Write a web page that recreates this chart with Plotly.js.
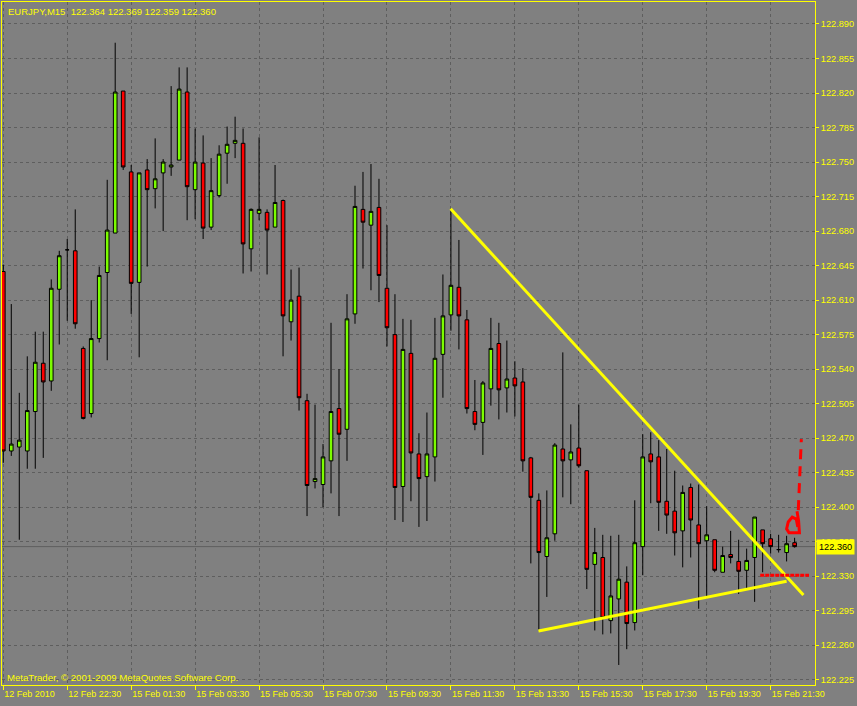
<!DOCTYPE html>
<html>
<head>
<meta charset="utf-8">
<script src="https://cdn.plot.ly/plotly-3.0.1.min.js"></script>
<style>
html,body{margin:0;padding:0;background:#808080;}
#chart{width:857px;height:706px;}
</style>
</head>
<body>
<div id="chart"></div>
<script>
// ---- data (EURJPY, M15) ----
const barIndex = Array.from({length: 100}, (_, i) => i);
const openPrices = [
 122.639,122.457,122.461,122.457,122.497,122.546,122.528,122.621,122.661,122.660,
 122.561,122.495,122.571,122.638,122.678,122.822,122.740,122.628,122.742,122.723,
 122.739,122.745,122.752,122.821,122.722,122.749,122.684,122.716,122.759,122.769,
 122.769,122.662,122.698,122.699,122.684,122.711,122.588,122.614,122.508,122.426,
 122.423,122.447,122.500,122.479,122.596,122.702,122.686,122.704,122.622,122.575,
 122.421,122.556,122.454,122.431,122.451,122.555,122.595,122.623,122.590,122.497,
 122.486,122.520,122.566,122.521,122.531,122.527,122.450,122.407,122.350,122.373,
 122.459,122.448,122.460,122.437,122.342,122.349,122.285,122.307,122.324,122.283,
 122.360,122.454,122.451,122.406,122.396,122.376,122.420,122.382,122.366,122.367,
 122.334,122.352,122.345,122.336,122.349,122.377,122.368,122.357,122.354,122.364];
const highPrices = [
 122.646,122.606,122.516,122.553,122.578,122.578,122.631,122.660,122.672,122.702,
 122.563,122.610,122.644,122.732,122.871,122.822,122.747,122.739,122.753,122.774,
 122.753,122.827,122.846,122.846,122.784,122.777,122.754,122.767,122.786,122.796,
 122.784,122.703,122.775,122.702,122.747,122.712,122.641,122.643,122.515,122.504,
 122.464,122.587,122.540,122.616,122.726,122.740,122.748,122.733,122.686,122.616,
 122.591,122.590,122.475,122.496,122.592,122.636,122.702,122.671,122.600,122.529,
 122.528,122.592,122.587,122.569,122.548,122.541,122.451,122.414,122.417,122.465,
 122.557,122.484,122.504,122.437,122.379,122.372,122.371,122.372,122.340,122.407,
 122.474,122.476,122.468,122.459,122.437,122.422,122.424,122.423,122.401,122.367,
 122.360,122.376,122.367,122.358,122.390,122.377,122.373,122.372,122.371,122.369];
const lowPrices = [
 122.445,122.452,122.367,122.439,122.439,122.450,122.518,122.565,122.589,122.581,
 122.489,122.491,122.567,122.549,122.678,122.742,122.596,122.552,122.644,122.703,
 122.680,122.736,122.752,122.691,122.692,122.672,122.681,122.714,122.728,122.754,
 122.637,122.639,122.691,122.636,122.684,122.553,122.569,122.498,122.391,122.419,
 122.400,122.414,122.391,122.447,122.586,122.642,122.620,122.608,122.563,122.387,
 122.385,122.406,122.380,122.386,122.426,122.511,122.579,122.560,122.495,122.478,
 122.453,122.503,122.489,122.496,122.492,122.436,122.343,122.276,122.309,122.366,
 122.410,122.403,122.440,122.317,122.275,122.271,122.272,122.240,122.256,122.275,
 122.331,122.404,122.376,122.373,122.351,122.339,122.349,122.297,122.309,122.334,
 122.334,122.343,122.312,122.316,122.304,122.334,122.353,122.354,122.345,122.359];
const closePrices = [
 122.457,122.464,122.468,122.498,122.547,122.527,122.622,122.655,122.661,122.586,
 122.490,122.571,122.635,122.681,122.821,122.745,122.627,122.739,122.722,122.733,
 122.750,122.747,122.824,122.725,122.750,122.683,122.721,122.758,122.768,122.772,
 122.667,122.702,122.702,122.681,122.709,122.594,122.610,122.511,122.422,122.429,
 122.451,122.497,122.474,122.591,122.705,122.689,122.700,122.635,122.582,122.420,
 122.560,122.455,122.429,122.454,122.551,122.594,122.625,122.594,122.500,122.484,
 122.526,122.561,122.519,122.530,122.523,122.447,122.410,122.354,122.369,122.463,
 122.447,122.456,122.442,122.337,122.354,122.288,122.310,122.327,122.282,122.364,
 122.451,122.446,122.405,122.392,122.374,122.415,122.387,122.363,122.372,122.336,
 122.351,122.349,122.335,122.346,122.390,122.363,122.360,122.357,122.363,122.360];

const xTickVals = [0, 8, 16, 24, 32, 40, 48, 56, 64, 72, 80, 88, 96];
const xTickLabels = ["12 Feb 2010","12 Feb 22:30","15 Feb 01:30","15 Feb 03:30","15 Feb 05:30",
  "15 Feb 07:30","15 Feb 09:30","15 Feb 11:30","15 Feb 13:30","15 Feb 15:30",
  "15 Feb 17:30","15 Feb 19:30","15 Feb 21:30"];
const yTickVals = [122.890,122.855,122.820,122.785,122.750,122.715,122.680,122.645,122.610,
  122.575,122.540,122.505,122.470,122.435,122.400,122.365,122.330,122.295,122.260,122.225];
const yTickLabels = yTickVals.map(v => v.toFixed(3));

const symbolTitle = "EURJPY,M15  122.364 122.369 122.359 122.360";
const copyrightText = "MetaTrader, © 2001-2009 MetaQuotes Software Corp.";
const lastPrice = 122.360;

// drawn trendlines (bar index, price)
const upperTrendX = [55.96, 100.1];
const upperTrendY = [122.7026, 122.311];
const lowerTrendX = [66.96, 98.0];
const lowerTrendY = [122.2745, 122.325];
// red hand-drawn marks
const redLevelX = [94.7, 100.8];
const redLevelY = [122.331, 122.331];
const redLoopX = [99.3, 99.5, 99.6, 98.3, 98.0, 98.2, 98.7, 99.2, 99.4];
const redLoopY = [122.396, 122.386, 122.374, 122.374, 122.378, 122.385, 122.390, 122.388, 122.380];
const redArrowX = [99.46, 99.84];
const redArrowY = [122.397, 122.469];

const YEL = "#ffff00";
const FONT = "Liberation Sans, Arial, sans-serif";

const traces = [
  {
    type: "candlestick",
    x: barIndex, open: openPrices, high: highPrices, low: lowPrices, close: closePrices,
    increasing: {fillcolor: "#7cfc00", line: {color: "#000000", width: 1}},
    decreasing: {fillcolor: "#ff0000", line: {color: "#000000", width: 1}},
    whiskerwidth: 0,
    hoverinfo: "skip",
    showlegend: false
  },
  {type: "scatter", mode: "lines", x: upperTrendX, y: upperTrendY,
   line: {color: YEL, width: 3}, hoverinfo: "skip", showlegend: false},
  {type: "scatter", mode: "lines", x: lowerTrendX, y: lowerTrendY,
   line: {color: YEL, width: 3}, hoverinfo: "skip", showlegend: false},
  {type: "scatter", mode: "lines", x: redLevelX, y: redLevelY,
   line: {color: "#ff0000", width: 3, dash: "4px,1px"}, hoverinfo: "skip", showlegend: false},
  {type: "scatter", mode: "lines", x: redLoopX, y: redLoopY,
   line: {color: "#ff0000", width: 3}, hoverinfo: "skip", showlegend: false},
  {type: "scatter", mode: "lines", x: redArrowX, y: redArrowY,
   line: {color: "#ff0000", width: 3, dash: "10px,7px"}, hoverinfo: "skip", showlegend: false}
];

const layout = {
  width: 857, height: 706,
  paper_bgcolor: "#808080", plot_bgcolor: "#808080",
  margin: {l: 2, r: 41.7, t: 2.3, b: 21},
  showlegend: false,
  boxgap: 0.35,
  font: {family: FONT, size: 9, color: YEL},
  xaxis: {
    type: "linear",
    range: [-0.1625, 101.55],
    tickvals: xTickVals, ticktext: xTickLabels,
    tickangle: 0,
    ticks: "outside", ticklen: 4, tickcolor: YEL, tickwidth: 1,
    ticklabelposition: "outside right",
    tickfont: {family: FONT, size: 9, color: YEL},
    showline: true, linecolor: YEL, linewidth: 1, mirror: true,
    showgrid: true, gridcolor: "#5e5e5e", griddash: "3px,3px", gridwidth: 1,
    zeroline: false,
    rangeslider: {visible: false},
    fixedrange: true
  },
  yaxis: {
    side: "right",
    range: [122.2197, 122.9123],
    tickvals: yTickVals, ticktext: yTickLabels,
    ticks: "outside", ticklen: 3, tickcolor: YEL, tickwidth: 1,
    tickfont: {family: FONT, size: 9.2, color: YEL},
    showline: true, linecolor: YEL, linewidth: 1, mirror: true,
    showgrid: true, gridcolor: "#5e5e5e", griddash: "3px,3px", gridwidth: 1,
    zeroline: false,
    fixedrange: true
  },
  shapes: [
    {type: "line", xref: "paper", yref: "y", x0: 0, x1: 1, y0: lastPrice, y1: lastPrice,
     line: {color: "#5e5e5e", width: 1}, layer: "below"}
  ],
  annotations: [
    {xref: "paper", yref: "paper", x: 0, y: 1, xanchor: "left", yanchor: "top",
     xshift: 4, yshift: -2, showarrow: false, text: symbolTitle,
     font: {family: FONT, size: 9.5, color: YEL}},
    {xref: "paper", yref: "paper", x: 0, y: 0, xanchor: "left", yanchor: "bottom",
     xshift: 3, yshift: 0, showarrow: false, text: copyrightText,
     font: {family: FONT, size: 9.6, color: YEL}},
    {xref: "paper", yref: "y", x: 1, y: lastPrice, xanchor: "left", yanchor: "middle",
     xshift: 1, showarrow: false, text: "122.360", bgcolor: YEL, borderpad: 2,
     font: {family: FONT, size: 9.2, color: "#000000"}}
  ]
};

Plotly.newPlot("chart", traces, layout, {displayModeBar: false, staticPlot: true});
</script>
</body>
</html>
